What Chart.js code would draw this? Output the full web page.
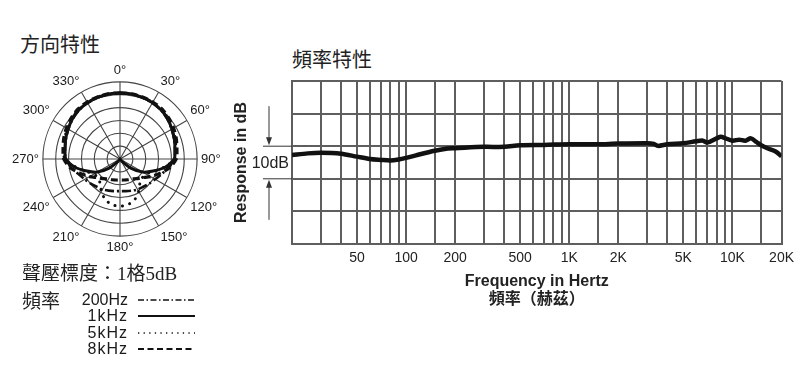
<!DOCTYPE html>
<html>
<head>
<meta charset="utf-8">
<script src="https://cdn.jsdelivr.net/npm/chart.js@4.4.1/dist/chart.umd.min.js"></script>
<style>
  body { margin: 0; background: #fff; width: 800px; height: 380px; position: relative; overflow: hidden;
         font-family: "Liberation Sans", Arial, sans-serif; color: #222; }
  .abs { position: absolute; }
  .cjk { font-family: "Noto Sans CJK TC", sans-serif; }
  .serif { font-family: "Liberation Serif", "Noto Sans CJK TC", serif; }
  .row { position: absolute; left: 60px; width: 68px; text-align: right; font-size: 16px; line-height: 16px; color: #1a1a1a; }
  .sample { position: absolute; left: 138px; }
</style>
</head>
<body>
<div class="abs cjk" style="left:20px; top:33px; font-size:20px; line-height:22px;">方向特性</div>
<div class="abs cjk" style="left:292px; top:48px; font-size:20px; line-height:22px;">頻率特性</div>

<canvas id="polar" class="abs" width="216" height="216" style="left:9px; top:51px;"></canvas>
<canvas id="freq" class="abs" width="575" height="240" style="left:225px; top:70px;"></canvas>

<div class="abs serif" style="left:22px; top:263px; font-size:19px; line-height:22px;">聲壓標度：1格5dB</div>
<div class="abs cjk" style="left:22px; top:289px; font-size:19px; line-height:22px;">頻率</div>
<div id="legend"></div>

<script>
// ---- polar pattern (dB, every 10 degrees, 0 = front, clockwise) ----
const angles = [0, 10, 20, 30, 40, 50, 60, 70, 80, 90, 100, 110, 120, 130, 140, 150, 160, 170,
                180, 190, 200, 210, 220, 230, 240, 250, 260, 270, 280, 290, 300, 310, 320, 330, 340, 350];

const resp200 = [-4.4, -4.4, -4.6, -4.8, -5.2, -5.9, -6.8, -7.6, -8.3, -8.9, -10.8, -12.8, -14.2, -15.1, -15.9, -16.3, -16.9, -17.3,
                 -17.5, -17.3, -16.9, -16.3, -15.9, -15.1, -14.2, -12.8, -10.8, -8.9, -8.3, -7.6, -6.8, -5.9, -5.2, -4.8, -4.6, -4.4];
const resp1k = [-4.3, -4.3, -4.5, -4.7, -5.1, -5.8, -6.7, -7.5, -8.3, -8.9, -12.0, -16.3, -19.8, -24.5, -28.8, -30, -30, -30,
                -30, -30, -30, -30, -28.8, -24.5, -19.8, -16.3, -12.0, -8.9, -8.3, -7.5, -6.7, -5.8, -5.1, -4.7, -4.5, -4.3];
const resp5k = [-4.3, -4.3, -4.4, -4.6, -4.9, -5.5, -6.3, -7.1, -7.9, -8.5, -12.4, -15.9, -18.3, -18.7, -17.9, -15.5, -13.2, -12.0,
                -11.6, -12.0, -13.2, -15.5, -17.9, -18.7, -18.3, -15.9, -12.4, -8.5, -7.9, -7.1, -6.3, -5.5, -4.9, -4.6, -4.4, -4.3];
const resp8k = [-4.3, -4.3, -4.3, -4.4, -4.6, -5.2, -5.9, -6.7, -7.5, -8.1, -10.4, -13.6, -16.3, -18.7, -20.0, -21.0, -21.4, -21.7,
                -21.8, -21.7, -21.4, -21.0, -20.0, -18.7, -16.3, -13.6, -10.4, -8.1, -7.5, -6.7, -5.9, -5.2, -4.6, -4.4, -4.3, -4.3];

const seriesNames = ['200Hz', '1kHz', '5kHz', '8kHz'];

// ---- frequency response ----
const freqs = [20, 25, 30, 40, 50, 60, 70, 80, 90, 100, 115, 150, 180, 200, 300, 400, 500, 700,
               1000, 1500, 2000, 3000, 3300, 3500, 4000, 5000, 6000, 6600, 7000,
               8000, 8500, 9000, 10000, 11000, 12000, 13000, 14000, 15000, 16500, 18500, 20000];
const response = [-2.7, -2.2, -2.0, -2.3, -3.2, -3.9, -4.2, -4.4, -4.1, -3.6, -2.8, -1.4, -0.7, -0.6, -0.2, -0.2, 0.3, 0.4,
                  0.6, 0.6, 0.8, 0.9, 0.7, 0.1, 0.6, 0.9, 1.5, 1.7, 1.1,
                  2.4, 2.9, 2.5, 1.7, 2.0, 1.7, 2.4, 1.3, 0.3, -0.7, -1.7, -3.1];

const gridFreqs = [20, 30, 40, 50, 60, 70, 80, 90, 100, 150, 200, 300, 400, 500, 600, 700, 800, 900,
                   1000, 1500, 2000, 3000, 4000, 5000, 6000, 7000, 8000, 9000, 10000, 15000, 20000];
const labelFreqs = [50, 100, 200, 500, 1000, 2000, 5000, 10000, 20000];
const labelTexts = ['50', '100', '200', '500', '1K', '2K', '5K', '10K', '20K'];
const markRange = [0, -10]; // the "10dB" bracket

const family = '"Liberation Sans", Arial, "Noto Sans CJK TC", sans-serif';
Chart.defaults.font.family = family;
Chart.defaults.color = '#222';
const gridColor = '#5e5e5e';

// legend rows
const dashes = ['6 2.5 1.5 2.5', '', '1.3 4.3', '6 3.5'];
const widths = [1.6, 2, 1.6, 1.8];
const rowTops = [292, 308, 325, 341];
const legend = document.getElementById('legend');
seriesNames.forEach((name, i) => {
  const lab = document.createElement('div');
  lab.className = 'row';
  lab.style.top = rowTops[i] + 'px';
  if (i > 0) lab.style.letterSpacing = '1px';
  lab.textContent = name;
  legend.appendChild(lab);
  legend.insertAdjacentHTML('beforeend',
    `<svg class="sample" style="top:${rowTops[i] + 5}px" width="58" height="6">
       <line x1="0" y1="3" x2="57" y2="3" stroke="#111" stroke-width="${widths[i]}" stroke-dasharray="${dashes[i]}"/>
     </svg>`);
});

new Chart(document.getElementById('polar'), {
  type: 'radar',
  data: {
    labels: angles.map(a => (a % 30 === 0 ? a + '°' : '')),
    datasets: [
      { label: seriesNames[1], data: resp1k, borderWidth: 3 },
      { label: seriesNames[3], data: resp8k, borderWidth: 3.2, borderDash: [7, 4] },
      { label: seriesNames[0], data: resp200, borderWidth: 2.6, borderDash: [9, 3, 2, 3] },
      { label: seriesNames[2], data: resp5k, borderWidth: 3, borderDash: [0.1, 7.5], borderCapStyle: 'round' }
    ].map(d => Object.assign({ borderColor: '#111', fill: false, pointRadius: 0, tension: 0.25 }, d))
  },
  options: {
    responsive: false,
    animation: false,
    plugins: { legend: { display: false }, tooltip: { enabled: false } },
    scales: {
      r: {
        min: -30,
        max: 0,
        ticks: { display: false, stepSize: 5 },
        grid: { circular: true, color: '#444', lineWidth: 1.1 },
        angleLines: { color: '#444', lineWidth: c => (c.index % 3 === 0 ? 1.1 : 0) },
        pointLabels: { padding: 4, color: '#1a1a1a', font: { size: 13 } }
      }
    }
  }
});

const dbMarker = {
  id: 'dbMarker',
  afterDraw(chart) {
    const { ctx, chartArea } = chart;
    const y = chart.scales.y;
    const yTop = y.getPixelForValue(markRange[0]);
    const yBot = y.getPixelForValue(markRange[1]);
    const left = chartArea.left;
    const ax = left - 23;
    ctx.save();
    ctx.strokeStyle = '#333';
    ctx.fillStyle = '#333';
    ctx.lineWidth = 1;
    ctx.beginPath();
    ctx.moveTo(left - 29, yTop); ctx.lineTo(left, yTop);
    ctx.moveTo(left - 29, yBot); ctx.lineTo(left, yBot);
    ctx.moveTo(ax, yTop - 40); ctx.lineTo(ax, yTop - 7);
    ctx.moveTo(ax, yBot + 41); ctx.lineTo(ax, yBot + 7);
    ctx.stroke();
    ctx.beginPath();
    ctx.moveTo(ax, yTop - 1); ctx.lineTo(ax - 3, yTop - 9); ctx.lineTo(ax + 3, yTop - 9); ctx.closePath();
    ctx.moveTo(ax, yBot + 1); ctx.lineTo(ax - 3, yBot + 9); ctx.lineTo(ax + 3, yBot + 9); ctx.closePath();
    ctx.fill();
    ctx.font = '16px ' + family;
    ctx.fillStyle = '#222';
    ctx.textAlign = 'right';
    ctx.textBaseline = 'middle';
    ctx.fillText('10dB', left - 3, (yTop + yBot) / 2 + 1);
    ctx.restore();
  }
};

new Chart(document.getElementById('freq'), {
  type: 'line',
  data: {
    datasets: [{
      data: freqs.map((f, i) => ({ x: f, y: response[i] })),
      borderColor: '#111',
      borderWidth: 4.5,
      pointRadius: 0,
      tension: 0.3,
      fill: false
    }]
  },
  options: {
    responsive: false,
    animation: false,
    layout: { padding: { top: 11, right: 17, left: 0, bottom: 0 } },
    plugins: { legend: { display: false }, tooltip: { enabled: false } },
    scales: {
      x: {
        type: 'logarithmic',
        min: 20,
        max: 20000,
        afterBuildTicks: s => { s.ticks = gridFreqs.map(v => ({ value: v })); },
        afterFit: s => { s.height = 66; },
        grid: { color: gridColor, lineWidth: 2, drawTicks: false },
        border: { color: gridColor, width: 2 },
        ticks: {
          autoSkip: false,
          maxRotation: 0,
          padding: 6,
          color: '#222',
          font: { size: 14 },
          callback: v => {
            const k = labelFreqs.indexOf(v);
            return k < 0 ? '' : labelTexts[k];
          }
        },
        title: {
          display: true,
          text: ['Frequency in Hertz', '頻率（赫茲）'],
          color: '#222',
          font: { size: 16, weight: 'bold', lineHeight: 1.1 },
          padding: { top: 0, bottom: 2 }
        }
      },
      y: {
        min: -30,
        max: 20,
        ticks: { display: false, stepSize: 10 },
        afterFit: s => { s.width = 67; },
        grid: { color: gridColor, lineWidth: 2, drawTicks: false },
        border: { color: gridColor, width: 2 },
        title: {
          display: true,
          text: 'Response in dB',
          color: '#222',
          font: { size: 16, weight: 'bold' },
          padding: { top: 7, bottom: 0 }
        }
      }
    }
  },
  plugins: [dbMarker]
});
</script>
</body>
</html>
